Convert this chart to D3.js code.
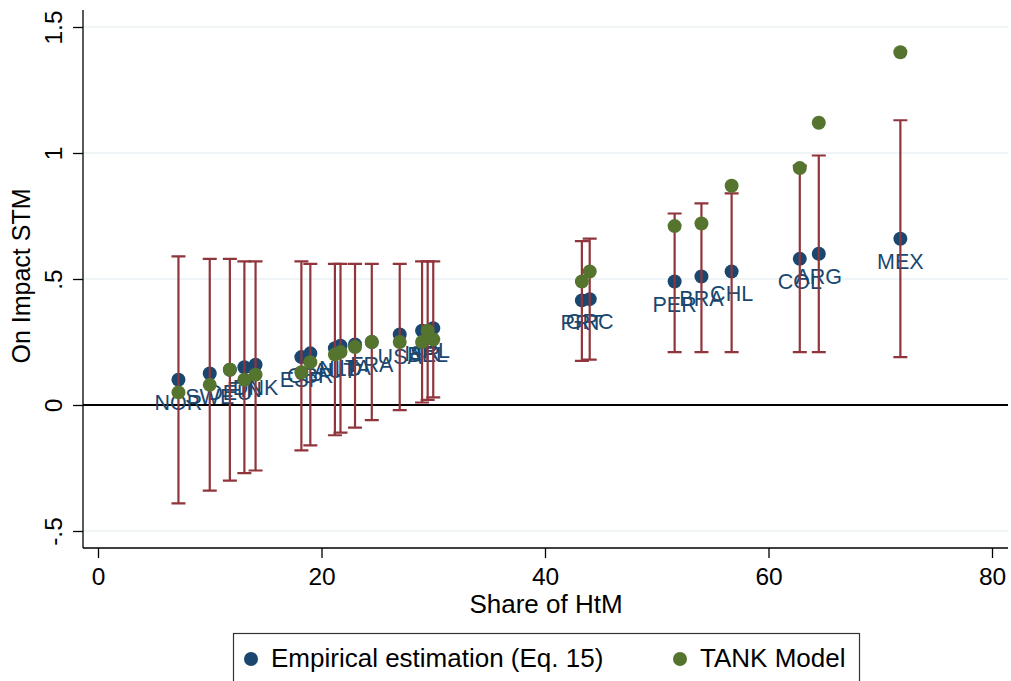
<!DOCTYPE html>
<html>
<head>
<meta charset="utf-8">
<script src="https://cdn.jsdelivr.net/npm/d3@7"></script>
<style>
  html, body { margin: 0; padding: 0; background: #fff; }
  svg { display: block; font-family: "Liberation Sans", Arial, Helvetica, sans-serif; }
</style>
</head>
<body>
<svg id="chart" width="1011" height="681"></svg>
<script>
// Country codes and share of hand-to-mouth households (%)
const countries = ["NOR","SWE","DEU","FIN","DNK","ESP","GBR","AUT","NLD","ITA","FRA","USA","ISR","BEL","IRL","PRT","GRC","PER","BRA","CHL","COL","ARG","MEX"];
const shareHtM  = [7.2, 10.0, 11.8, 13.1, 14.1, 18.2, 19.0, 21.2, 21.7, 23.0, 24.5, 27.0, 29.0, 29.5, 30.0, 43.3, 44.0, 51.6, 54.0, 56.7, 62.8, 64.5, 71.8];
// On-impact short-term multiplier: empirical estimate and TANK model
const empirical = [0.10, 0.125, 0.14, 0.15, 0.16, 0.19, 0.205, 0.225, 0.235, 0.24, 0.25, 0.28, 0.295, 0.29, 0.305, 0.415, 0.42, 0.49, 0.51, 0.53, 0.58, 0.60, 0.66];
const tankModel = [0.05, 0.08, 0.14, 0.10, 0.12, 0.13, 0.17, 0.20, 0.21, 0.23, 0.25, 0.25, 0.25, 0.295, 0.26, 0.49, 0.53, 0.71, 0.72, 0.87, 0.94, 1.12, 1.40];
// Confidence interval bounds of the empirical estimate
const ciLow  = [-0.39, -0.34, -0.30, -0.27, -0.26, -0.18, -0.16, -0.12, -0.11, -0.09, -0.06, -0.02, 0.01, 0.02, 0.03, 0.175, 0.18, 0.21, 0.21, 0.21, 0.21, 0.21, 0.19];
const ciHigh = [0.59, 0.58, 0.58, 0.57, 0.57, 0.57, 0.56, 0.56, 0.56, 0.56, 0.56, 0.56, 0.57, 0.57, 0.57, 0.65, 0.66, 0.76, 0.80, 0.84, 0.95, 0.99, 1.13];
// Axis ticks and legend entries
const xTicks = [0, 20, 40, 60, 80];
const yTicks = [-0.5, 0, 0.5, 1, 1.5];
const yTickLabels = ["-.5", "0", ".5", "1", "1.5"];
const legendLabels = ["Empirical estimation (Eq. 15)", "TANK Model"];

const C_BLUE = "#1a476f", C_GREEN = "#55752f", C_RED = "#90353b";

const rows = countries.map((c, i) => ({
  c, x: shareHtM[i], emp: empirical[i], tank: tankModel[i], lo: ciLow[i], hi: ciHigh[i]
}));

const svg = d3.select("#chart");
const frame = { left: 83, right: 1008, top: 10, bottom: 548 };

const x = d3.scaleLinear().domain([0, 80]).range([98, 992]);
const y = d3.scaleLinear().domain([-0.5, 1.5]).range([531, 27]);

// grid lines
svg.append("g").selectAll("line")
  .data(yTicks.filter(v => v !== 0))
  .join("line")
  .attr("x1", frame.left).attr("x2", frame.right)
  .attr("y1", d => y(d)).attr("y2", d => y(d))
  .attr("stroke", "#eaf2f3").attr("stroke-width", 1.5);

// zero reference line
svg.append("line")
  .attr("x1", frame.left).attr("x2", frame.right)
  .attr("y1", y(0)).attr("y2", y(0))
  .attr("stroke", "#000").attr("stroke-width", 2);

// y axis
const yAxis = svg.append("g")
  .attr("transform", `translate(${frame.left},0)`)
  .call(d3.axisLeft(y).tickValues(yTicks).tickSize(10).tickPadding(8)
    .tickFormat((d, i) => yTickLabels[i]));
yAxis.select(".domain").attr("d", `M0,${frame.top}V${frame.bottom}`).attr("stroke", "#000").attr("stroke-width", 1.3);
yAxis.selectAll(".tick line").attr("stroke", "#000").attr("stroke-width", 1.3);
yAxis.selectAll(".tick text")
  .attr("font-size", 24.5).attr("fill", "#000")
  .attr("text-anchor", "middle")
  .attr("x", null).attr("dy", null)
  .attr("transform", "translate(-21,0) rotate(-90)")
  .attr("y", 0);

// x axis
const xAxis = svg.append("g")
  .attr("transform", `translate(0,${frame.bottom})`)
  .call(d3.axisBottom(x).tickValues(xTicks).tickSize(10).tickPadding(10).tickFormat(d3.format("d")));
xAxis.select(".domain").attr("d", `M${frame.left},0H${frame.right}`).attr("stroke", "#000").attr("stroke-width", 1.3);
xAxis.selectAll(".tick line").attr("stroke", "#000").attr("stroke-width", 1.3);
xAxis.selectAll(".tick text").attr("font-size", 24.5).attr("fill", "#000");

// axis titles
svg.append("text")
  .attr("x", 546).attr("y", 613)
  .attr("text-anchor", "middle").attr("font-size", 26).attr("fill", "#000")
  .text("Share of HtM");
svg.append("text")
  .attr("transform", `translate(30,276) rotate(-90)`)
  .attr("text-anchor", "middle").attr("font-size", 25).attr("fill", "#000")
  .text("On Impact STM");

// empirical estimates with country labels
const plot = svg.append("g");
plot.append("g").selectAll("circle")
  .data(rows).join("circle")
  .attr("cx", d => x(d.x)).attr("cy", d => y(d.emp)).attr("r", 7)
  .attr("fill", C_BLUE);
plot.append("g").selectAll("text")
  .data(rows).join("text")
  .attr("x", d => x(d.x)).attr("y", d => y(d.emp) + 30)
  .attr("text-anchor", "middle").attr("font-size", 21.5).attr("fill", C_BLUE)
  .text(d => d.c);

// confidence intervals
const ci = plot.append("g").attr("stroke", C_RED).attr("stroke-width", 2.2).attr("fill", "none");
ci.selectAll("path")
  .data(rows).join("path")
  .attr("d", d => {
    const cx = x(d.x), y0 = y(d.lo), y1 = y(d.hi), w = 7;
    return `M${cx},${y0}V${y1}M${cx - w},${y1}H${cx + w}M${cx - w},${y0}H${cx + w}`;
  });

// TANK model predictions
plot.append("g").selectAll("circle")
  .data(rows).join("circle")
  .attr("cx", d => x(d.x)).attr("cy", d => y(d.tank)).attr("r", 7)
  .attr("fill", C_GREEN);

// legend
const legend = svg.append("g");
legend.append("rect")
  .attr("x", 233.5).attr("y", 633.5).attr("width", 626).attr("height", 60)
  .attr("fill", "#fff").attr("stroke", "#333").attr("stroke-width", 1.2);
const legendItems = [
  { label: legendLabels[0], color: C_BLUE, mx: 251, tx: 271 },
  { label: legendLabels[1], color: C_GREEN, mx: 680, tx: 700 }
];
legendItems.forEach(it => {
  legend.append("circle").attr("cx", it.mx).attr("cy", 659).attr("r", 7).attr("fill", it.color);
  legend.append("text").attr("x", it.tx).attr("y", 667)
    .attr("font-size", 26).attr("fill", "#000").text(it.label);
});
</script>
</body>
</html>
